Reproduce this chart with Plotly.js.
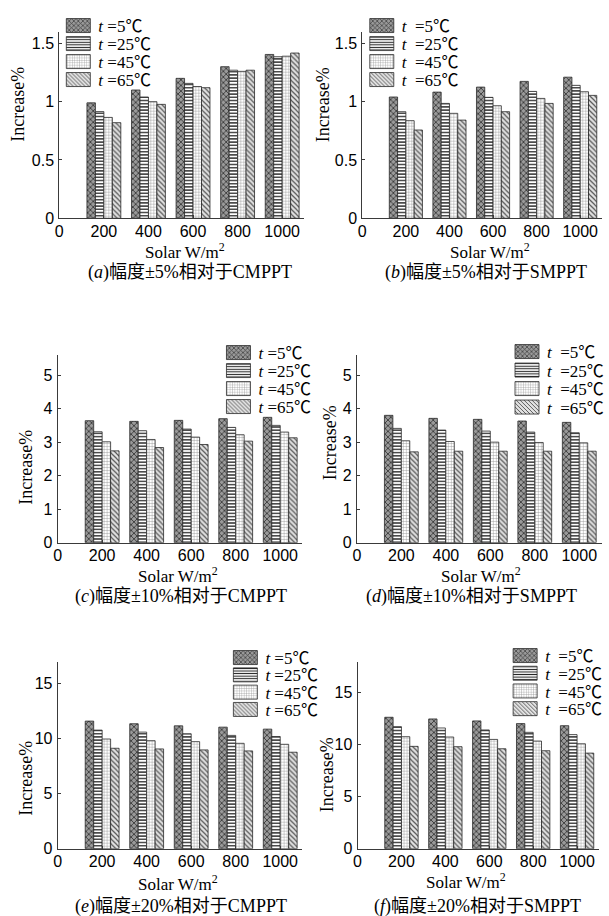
<!DOCTYPE html>
<html>
<head>
<meta charset="utf-8">
<script src="https://cdn.plot.ly/plotly-3.0.1.min.js"></script>
<style>
  html, body { margin: 0; padding: 0; background: #fff; }
  #chart { width: 609px; height: 916px; }
</style>
</head>
<body>
<div id="chart"></div>
<script>
// Solar irradiance levels (W/m²) on the x axis
const solar = [200, 400, 600, 800, 1000];
const xTicks = [0, 200, 400, 600, 800, 1000];
// Cell temperatures, one bar series each
const tempLabels = ['5℃', '25℃', '45℃', '65℃'];

// Power increase (%) — rows: t = 5, 25, 45, 65 ℃; columns follow `solar`
const inc_a = [
  [0.99, 1.10, 1.20, 1.30, 1.405],
  [0.915, 1.04, 1.157, 1.27, 1.385],
  [0.865, 1.00, 1.13, 1.26, 1.39],
  [0.82, 0.977, 1.12, 1.27, 1.417]
];
const inc_b = [
  [1.04, 1.082, 1.125, 1.174, 1.21],
  [0.914, 0.985, 1.037, 1.088, 1.14],
  [0.837, 0.90, 0.965, 1.028, 1.085],
  [0.757, 0.842, 0.914, 0.985, 1.054]
];
const inc_c = [
  [3.64, 3.62, 3.65, 3.70, 3.74],
  [3.31, 3.34, 3.39, 3.44, 3.50],
  [3.01, 3.08, 3.15, 3.22, 3.30],
  [2.74, 2.84, 2.93, 3.03, 3.13]
];
const inc_d = [
  [3.80, 3.71, 3.68, 3.63, 3.59],
  [3.41, 3.36, 3.33, 3.30, 3.28],
  [3.04, 3.02, 3.00, 2.99, 2.98],
  [2.71, 2.73, 2.73, 2.73, 2.73]
];
const inc_e = [
  [11.6, 11.36, 11.17, 11.05, 10.87],
  [10.78, 10.6, 10.45, 10.3, 10.2],
  [9.97, 9.82, 9.73, 9.58, 9.49],
  [9.13, 9.07, 8.98, 8.89, 8.77]
];
const inc_f = [
  [12.65, 12.49, 12.3, 12.04, 11.84],
  [11.75, 11.62, 11.43, 11.2, 10.98],
  [10.78, 10.75, 10.52, 10.36, 10.1],
  [9.85, 9.82, 9.62, 9.43, 9.2]
];

// Panel captions
const panelLetters = ['a', 'b', 'c', 'd', 'e', 'f'];
const amplitudes = ['±5%', '±5%', '±10%', '±10%', '±20%', '±20%'];
const baselines = ['CMPPT', 'SMPPT', 'CMPPT', 'SMPPT', 'CMPPT', 'SMPPT'];
const panelData = [inc_a, inc_b, inc_c, inc_d, inc_e, inc_f];

// ---------- styling / geometry (pixels in a 609 x 916 page) ----------
const W = 609, H = 916;
const px = v => v / W;
const py = v => 1 - v / H;

const SERIF = "'Liberation Serif', 'Times New Roman', 'Noto Sans CJK SC', serif";
const SANS = "'Liberation Sans', Arial, sans-serif";

// plot area per panel: left, right, top, bottom (px), y range and tick step,
// plus centres of the y title, x title and caption, and the legend corner
const panels = [
  { l: 60,  r: 308, t: 31.7,  b: 218.3, ymax: 1.6, dtick: 0.5,
    yt: [18, 104], xt: [187, 251], cap: [192, 272], leg: [59, 8], gap: 18 },
  { l: 366.5, r: 609, t: 31.7, b: 218.3, ymax: 1.6, dtick: 0.5,
    yt: [327, 105], xt: [496, 251], cap: [492, 272], leg: [366, 8], gap: 18 },
  { l: 58.3, r: 306, t: 355, b: 542.7, ymax: 5.6, dtick: 1,
    yt: [26, 467], xt: [180, 575], cap: [183, 596], leg: [221, 335], gap: 18 },
  { l: 361, r: 608.5, t: 355, b: 542.7, ymax: 5.6, dtick: 1,
    yt: [334, 443], xt: [487, 575], cap: [477, 596], leg: [513, 334], gap: 18.5 },
  { l: 58.3, r: 306, t: 661.7, b: 848.7, ymax: 17, dtick: 5,
    yt: [26, 778], xt: [180, 883], cap: [183, 906], leg: [228, 640], gap: 17.3 },
  { l: 361.7, r: 606, t: 661.7, b: 848.7, ymax: 18, dtick: 5,
    yt: [331, 775], xt: [471, 881], cap: [483, 906], leg: [511, 638], gap: 17.7 }
];

// fill patterns for the four temperature series
const patterns = [
  { shape: 'x',  fgcolor: '#3c3c3c', bgcolor: '#9a9a9a', size: 4,   solidity: 0.4 },
  { shape: '-',  fgcolor: '#1e1e1e', bgcolor: '#ffffff', size: 3.2, solidity: 0.4 },
  { shape: '+',  fgcolor: '#8c8c8c', bgcolor: '#ffffff', size: 3,   solidity: 0.25 },
  { shape: '\\', fgcolor: '#5a5a5a', bgcolor: '#e2e2e2', size: 3.5, solidity: 0.35 }
];

const traces = [];
const layout = {
  width: W, height: H,
  margin: { l: 0, r: 0, t: 0, b: 0 },
  paper_bgcolor: '#fff', plot_bgcolor: 'rgba(0,0,0,0)',
  barmode: 'group', bargap: 0.24, bargroupgap: 0,
  showlegend: true,
  font: { family: SANS, size: 16, color: '#000' },
  annotations: []
};

panels.forEach((p, i) => {
  const n = i === 0 ? '' : String(i + 1);
  const legId = 'legend' + n;
  const wide = (i % 2 === 1) ? '&nbsp; ' : ' ';
  panelData[i].forEach((vals, k) => {
    traces.push({
      type: 'bar',
      x: solar,
      y: vals,
      name: '<i>t</i>' + wide + '=' + tempLabels[k],
      xaxis: 'x' + n,
      yaxis: 'y' + n,
      legend: legId,
      marker: {
        color: patterns[k].bgcolor,
        line: { color: '#2a2a2a', width: 0.8 },
        pattern: Object.assign({ fillmode: 'replace' }, patterns[k])
      },
      hoverinfo: 'skip'
    });
  });

  const axCommon = {
    showline: true, linecolor: '#3a3a3a', linewidth: 1,
    ticks: 'inside', ticklen: 3, tickcolor: '#3a3a3a',
    showgrid: false, zeroline: false, fixedrange: true,
    tickfont: { family: SANS, size: 16, color: '#000' }
  };
  layout['xaxis' + n] = Object.assign({}, axCommon, {
    domain: [px(p.l), px(p.r)], range: [0, 1100],
    anchor: 'y' + n, tickmode: 'array', tickvals: xTicks,
    ticklabelstandoff: -2
  });
  layout['yaxis' + n] = Object.assign({}, axCommon, {
    domain: [py(p.b), py(p.t)], range: [0, p.ymax],
    anchor: 'x' + n, dtick: p.dtick, tick0: 0,
    ticklabelstandoff: 1
  });
  layout[legId] = {
    x: px(p.leg[0]), y: py(p.leg[1]), xanchor: 'left', yanchor: 'top',
    bgcolor: 'rgba(0,0,0,0)', borderwidth: 0,
    font: { family: SERIF, size: 17, color: '#000' },
    itemwidth: 30, tracegroupgap: 0, traceorder: 'normal'
  };

  const titleFont = { family: SERIF, size: 18, color: '#000' };
  const xTitleFont = { family: SERIF, size: 17, color: '#000' };
  layout.annotations.push(
    { text: 'Increase%', textangle: -90, x: px(p.yt[0]), y: py(p.yt[1]),
      xref: 'paper', yref: 'paper', xanchor: 'center', yanchor: 'middle',
      showarrow: false, font: titleFont },
    { text: 'Solar W/m<sup>2</sup>', x: px(p.xt[0]), y: py(p.xt[1]),
      xref: 'paper', yref: 'paper', xanchor: 'center', yanchor: 'middle',
      showarrow: false, font: xTitleFont },
    { text: '(<i>' + panelLetters[i] + '</i>)幅度' + amplitudes[i] + '相对于' + baselines[i],
      x: px(p.cap[0]), y: py(p.cap[1]),
      xref: 'paper', yref: 'paper', xanchor: 'center', yanchor: 'middle',
      showarrow: false, font: titleFont }
  );
});

Plotly.newPlot('chart', traces, layout, { displayModeBar: false, staticPlot: true }).then(gd => {
  // compact legend rows and widen the swatches
  gd.querySelectorAll('g.infolayer > g').forEach(lg => {
    const cls = (lg.getAttribute('class') || '').split(' ')[0];
    const m0 = cls.match(/^legend(\d*)$/);
    if (!m0) return;
    const idx = m0[1] ? parseInt(m0[1], 10) - 1 : 0;
    const gap = panels[idx] ? panels[idx].gap : 18;
    let base = null;
    lg.querySelectorAll('g.traces').forEach((it, k) => {
      const tr = it.getAttribute('transform') || '';
      const m = tr.match(/translate\(([-\d.]+)[ ,]+([-\d.]+)\)/);
      if (!m) return;
      if (base === null) base = [parseFloat(m[1]), parseFloat(m[2])];
      it.setAttribute('transform', 'translate(' + base[0] + ',' + (base[1] + k * gap) + ')');
    });
    lg.querySelectorAll('path.legendbar, path.legendundefined').forEach(pth => {
      pth.setAttribute('d', 'M12,7H-12V-7H12Z');
    });
  });
});
</script>
</body>
</html>
